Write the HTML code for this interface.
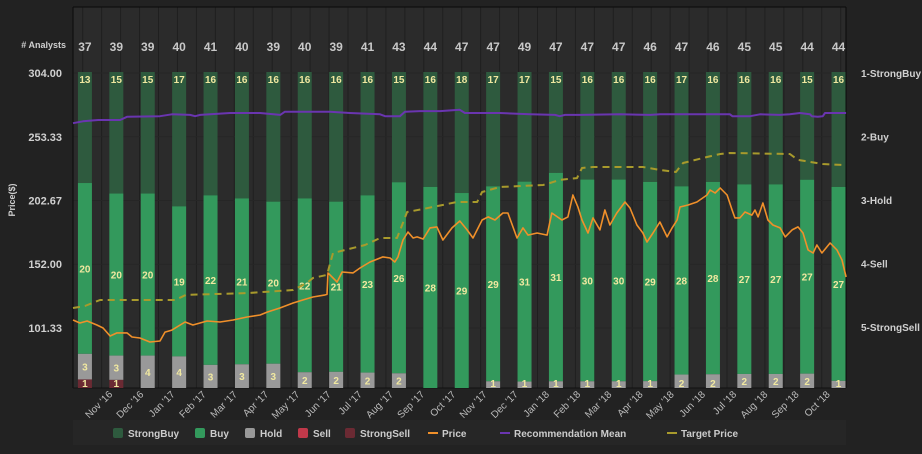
<!DOCTYPE html>
<html><head><meta charset="utf-8"><style>
body{margin:0;background:#222;width:922px;height:449px;overflow:hidden;font-family:"Liberation Sans",sans-serif}
svg text{font-family:"Liberation Sans",sans-serif}
</style></head><body>
<svg id="c" width="922" height="449" xmlns="http://www.w3.org/2000/svg"></svg>
<script>
const analysts=[37,39,39,40,41,40,39,40,39,41,43,44,47,47,49,47,47,47,46,47,46,45,45,44,44];
const strongBuy=[13,15,15,17,16,16,16,16,16,16,15,16,18,17,17,15,16,16,16,17,16,16,16,15,16];
const buy=[20,20,20,19,22,21,20,22,21,23,26,28,29,29,31,31,30,30,29,28,28,27,27,27,27];
const hold=[3,3,4,4,3,3,3,2,2,2,2,0,0,1,1,1,1,1,1,2,2,2,2,2,1];
const sell=[0,0,0,0,0,0,0,0,0,0,0,0,0,0,0,0,0,0,0,0,0,0,0,0,0];
const strongSell=[1,1,0,0,0,0,0,0,0,0,0,0,0,0,0,0,0,0,0,0,0,0,0,0,0];
const months=["Nov '16","Dec '16","Jan '17","Feb '17","Mar '17","Apr '17","May '17","Jun '17","Jul '17","Aug '17","Sep '17","Oct '17","Nov '17","Dec '17","Jan '18","Feb '18","Mar '18","Apr '18","May '18","Jun '18","Jul '18","Aug '18","Sep '18","Oct '18"];
const priceTicks=[304.00,253.33,202.67,152.00,101.33];
const ratingTicks=["1-StrongBuy","2-Buy","3-Hold","4-Sell","5-StrongSell"];
const priceT=[0,.22,.45,.76,.96,1.18,1.40,1.72,1.88,2.13,2.45,2.77,2.93,3.15,3.57,3.82,4.27,4.68,5.10,5.54,5.96,6.18,6.59,7.01,7.32,7.64,8.03,8.09,8.12,8.41,8.57,8.92,9.14,9.46,9.87,10.10,10.25,10.35,10.51,10.67,10.83,10.96,11.15,11.37,11.59,11.78,12.07,12.32,12.55,12.74,13.03,13.22,13.44,13.69,13.85,14.14,14.33,14.49,14.78,15.10,15.25,15.57,15.76,15.92,16.08,16.21,16.40,16.56,16.78,16.94,17.10,17.32,17.58,17.74,17.96,18.15,18.28,18.47,18.69,18.92,19.08,19.24,19.33,19.59,19.87,20.19,20.29,20.45,20.61,20.83,20.99,21.08,21.24,21.40,21.62,21.72,21.82,21.97,22.13,22.29,22.52,22.68,22.90,23.09,23.25,23.41,23.57,23.69,23.85,24.11,24.33,24.49,24.62];
const priceV=[107.7,105.3,106.9,103.7,101.3,95.0,97.4,97.4,94.2,93.4,90.2,91.0,98.1,99.7,106.1,103.7,106.9,106.1,107.7,110.1,111.7,114.0,117.2,121.2,123.6,126.0,127.6,128,145.1,137.9,145.8,145.1,149.0,153.8,157.8,157.0,153.8,157.8,171.3,177.6,172.9,173.7,172.1,180.9,181.7,171.3,180.9,186.4,179.3,172.9,187.2,189.6,187.2,192.7,192.7,172.9,180.9,175.2,176.8,175.2,192.7,187.2,189.6,207.0,197.5,187.2,176.8,188.8,179.3,195.1,183.2,192.7,201.5,196.7,183.2,176.8,169.7,176.8,185.6,173.7,180.9,187.2,197.5,199.1,201.5,207.0,211.0,208.6,212.6,207.0,195.1,188.8,188.8,193.5,191.1,195.1,189.6,200.7,187.2,183.2,180.9,173.7,179.3,181.7,176.8,163.3,160.9,167.3,160.9,168.9,163.3,155.4,141.9];
const targetT=[0,.38,.86,3.25,3.6,5.54,7.01,7.45,7.64,8.09,8.28,8.66,9.3,9.78,10.32,10.48,10.64,11.15,11.46,12.23,12.87,13.03,13.6,14.97,15.19,15.5,16.05,16.21,16.56,18.15,18.7,19.2,19.43,20.19,20.61,20.92,22.83,23.09,23.88,24.52];
const targetV=[117.2,118.8,123.6,123.6,127.6,129.1,131.5,137.1,141.1,143.5,160.9,163.3,167.3,172.9,172.9,183.2,193.5,195.9,197.5,201.5,201.5,209.4,213.4,215.0,216.6,219.0,220.5,228.5,229.3,229.3,226.9,225.3,232.5,237.2,239.6,240.4,239.6,234.9,231.7,230.9];
const recT=[0,.32,.8,1.5,1.72,2.77,3.15,3.73,3.89,4.05,5.0,5.96,6.6,6.75,7.23,8.18,8.82,9.78,9.94,10.41,10.57,11.05,11.69,12.32,12.48,13.6,14.55,15.35,15.5,15.67,16.15,17.42,18.38,18.7,20.0,20.92,21.0,21.56,21.88,22.5,22.83,23.15,23.47,23.53,23.72,23.88,23.95,24.62];
const recV=[1.79,1.76,1.74,1.74,1.69,1.68,1.65,1.66,1.68,1.66,1.63,1.63,1.66,1.61,1.61,1.61,1.63,1.65,1.68,1.68,1.61,1.60,1.60,1.58,1.63,1.63,1.65,1.66,1.68,1.66,1.66,1.65,1.66,1.65,1.65,1.65,1.68,1.68,1.65,1.66,1.65,1.63,1.65,1.68,1.69,1.68,1.63,1.63];

const NS="http://www.w3.org/2000/svg",svg=document.getElementById('c');
function el(t,a,p){const e=document.createElementNS(NS,t);for(const k in a)e.setAttribute(k,a[k]);(p||svg).appendChild(e);return e;}
const L=73,R=846,T=7,B=388,BT=72;
const xT=t=>L+t*31.4;
const yP=p=>73+(304-p)*(255/202.67);
const yR=r=>73+(r-1)*63.5;
const bx=i=>xT(0.38+i);

let e=el('rect',{x:L,y:T,width:R-L,height:B-T,fill:'#2b2b2b'});


for(let x=82.7;x<R;x+=18.95){e=el('line',{x1:x,x2:x,y1:T,y2:B,stroke:'#1f1f1f','stroke-width':1});

}
priceTicks.forEach((p,i)=>{const y=yP(p);
e=el('line',{x1:L,x2:R,y1:y,y2:y,stroke:'#262626'});


e=el('text',{x:62,y:y+4,fill:'#d0d0d0','font-size':11,'font-weight':'bold','text-anchor':'end'});e.textContent=p.toFixed(2);


e=el('text',{x:861,y:yR(i+1)+4,fill:'#d0d0d0','font-size':10,'font-weight':'bold'});e.textContent=ratingTicks[i];

});
el('line',{x1:L,x2:R,y1:T,y2:T,stroke:'#0a0a0a'});
el('line',{x1:L,x2:L,y1:T,y2:B,stroke:'#0a0a0a'});
el('line',{x1:R,x2:R,y1:T,y2:B,stroke:'#0a0a0a'});
el('line',{x1:L,x2:R,y1:B,y2:B,stroke:'#111'});

e=el('text',{x:66,y:48,fill:'#d0d0d0','font-size':9,'font-weight':'bold','text-anchor':'end'});e.textContent='# Analysts';


e=el('text',{x:15,y:200,fill:'#d0d0d0','font-size':9,'font-weight':'bold','text-anchor':'middle',transform:'rotate(-90 15 200)'});e.textContent='Price($)';



const segs=[[strongBuy,'#2e5a3e','strongbuy'],[buy,'#33995c','buy'],[hold,'#999999','hold'],[sell,'#c0394a','sell'],[strongSell,'#6b2a33','strongsell']];
const H=B-BT;
analysts.forEach((n,i)=>{const x=bx(i);let y=BT;
 e=el('text',{x:x,y:51,fill:'#c8c8c8','font-size':12,'font-weight':'bold','text-anchor':'middle'});e.textContent=n;
 
 
 segs.forEach(([arr,col,nm],k)=>{const v=arr[i];if(!v)return;const h=v/n*H;
  e=el('rect',{x:x-7,y:y,width:14,height:h,fill:col});
  
  
  const ty=k==0?y+11:(h<14?y+h-1:y+h/2+4);
  e=el('text',{x:x,y:ty,fill:'#f0e8a0','font-size':10,'font-weight':'bold','text-anchor':'middle'});e.textContent=v;
  
  
  y+=h;});
});
months.forEach((m,i)=>{const x=113+i*31.2;
 e=el('text',{x:x,y:395,fill:'#bbbbbb','font-size':10,'text-anchor':'end',transform:`rotate(-45 ${x} 395)`});e.textContent=m;
 
 });

function line(ts,vs,fy,col,w,dash,name){const d=ts.map((t,i)=>(i?'L':'M')+xT(t).toFixed(1)+' '+fy(vs[i]).toFixed(1)).join('');
 const a={d:d,fill:'none',stroke:col,'stroke-width':w,'stroke-linejoin':'round'};if(dash)a['stroke-dasharray']=dash;
 const p=el('path',a);
 }
line(recT,recV,yR,'#6a35b0',2,null,'recommendation-mean-line');
line(targetT,targetV,yP,'#a89a2c',2,'7 5','target-price-line');
line(priceT,priceV,yP,'#f0902a',1.6,null,'price-line');

e=el('rect',{x:L,y:420,width:R-L,height:25,fill:'#262626'});


const leg=[['StrongBuy','#2e5a3e',113,'box'],['Buy','#33995c',195,'box'],['Hold','#999999',245,'box'],['Sell','#c0394a',298,'box'],['StrongSell','#6b2a33',345,'box'],['Price','#f0902a',428,'line'],['Recommendation Mean','#6a35b0',500,'line'],['Target Price','#a89a2c',667,'line']];
leg.forEach(([t,c,x,k])=>{
 if(k=='box'){e=el('rect',{x:x,y:428,width:10,height:10,rx:2,fill:c});}
 else{e=el('rect',{x:x,y:432,width:10,height:2,fill:c});}
 
 
 e=el('text',{x:x+(k=='box'?15:14),y:437,fill:'#cccccc','font-size':10,'font-weight':'bold'});e.textContent=t;
 
 });
</script>
</body></html>
